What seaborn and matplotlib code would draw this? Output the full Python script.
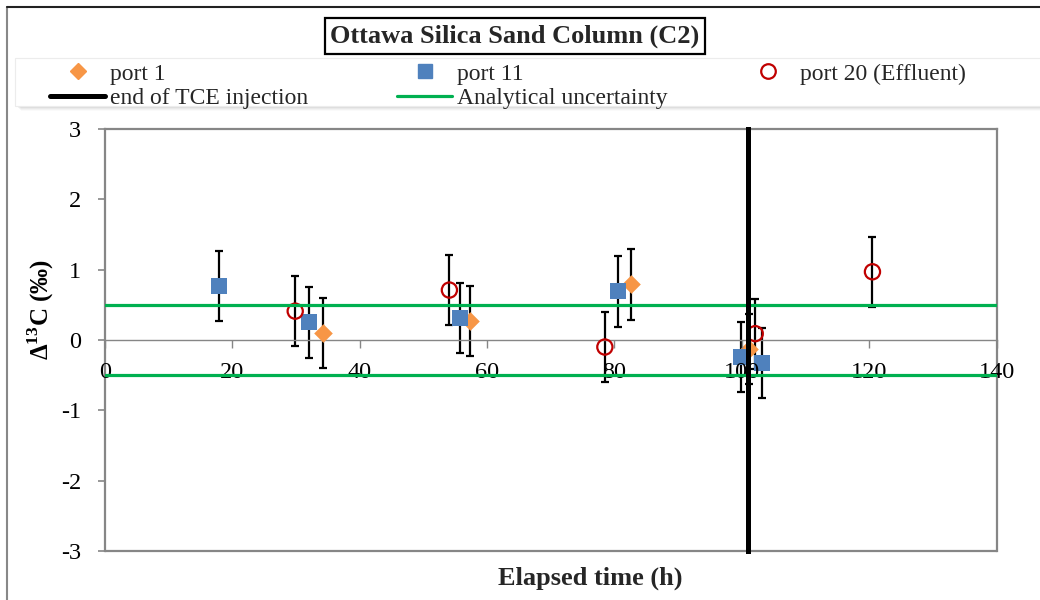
import matplotlib
matplotlib.use("Agg")
import matplotlib.pyplot as plt
from matplotlib.lines import Line2D
from matplotlib.patches import Rectangle
import pandas as pd
import seaborn as sns

# ---- data -----------------------------------------------------------------
port1_time = [34.3, 57.4, 82.6, 101.2]
port1_d13c = [0.10, 0.27, 0.79, -0.13]
port1_err = [0.5, 0.5, 0.5, 0.5]

port11_time = [17.9, 32.1, 55.7, 80.5, 99.9, 103.2]
port11_d13c = [0.77, 0.25, 0.31, 0.69, -0.24, -0.33]
port11_err = [0.5, 0.5, 0.5, 0.5, 0.5, 0.5]

port20_time = [29.9, 54.1, 78.5, 102.1, 120.5]
port20_d13c = [0.41, 0.71, -0.10, 0.09, 0.97]
port20_err = [0.5, 0.5, 0.5, 0.5, 0.5]

tce_time = [101.0, 101.0]
tce_range = [-3.0, 3.0]

unc_time = [0.0, 140.0]
unc_upper = [0.5, 0.5]
unc_lower = [-0.5, -0.5]

x_ticks = [0, 20, 40, 60, 80, 100, 120, 140]
y_ticks = [-3, -2, -1, 0, 1, 2, 3]

labels = ["port 1", "port 11", "port 20 (Effluent)",
          "end of TCE injection", "Analytical uncertainty"]
title = "Ottawa Silica Sand Column (C2)"

# ---- style ----------------------------------------------------------------
sns.set_theme(style="white")
plt.rcParams["font.family"] = ["Liberation Serif", "DejaVu Serif"]
plt.rcParams["mathtext.fontset"] = "custom"
plt.rcParams["mathtext.rm"] = "Liberation Serif"
plt.rcParams["mathtext.bf"] = "Liberation Serif:bold"

ORANGE = "#F79646"
BLUE = "#4F81BD"
RED = "#C00000"
GREEN = "#00B050"
FRAME = "#868686"

W, H = 1040, 600


def fx(px):
    return px / W


def fy(py):
    return 1 - py / H


fig = plt.figure(figsize=(10.4, 6.0), dpi=100)
ax = fig.add_axes([fx(104.7), fy(551), 892 / W, 422 / H])

# error bars
for t, v, e in [(port1_time, port1_d13c, port1_err),
                (port11_time, port11_d13c, port11_err),
                (port20_time, port20_d13c, port20_err)]:
    ax.errorbar(t, v, yerr=e, fmt="none", ecolor="black",
                elinewidth=1.6, capsize=3.2, capthick=1.6, zorder=2)

# markers
df1 = pd.DataFrame({"t": port1_time, "v": port1_d13c})
df11 = pd.DataFrame({"t": port11_time, "v": port11_d13c})
df20 = pd.DataFrame({"t": port20_time, "v": port20_d13c})
sns.scatterplot(data=df1, x="t", y="v", ax=ax, marker="D", s=90,
                color=ORANGE, linewidth=0, zorder=3)
sns.scatterplot(data=df11, x="t", y="v", ax=ax, marker="s", s=117,
                color=BLUE, linewidth=0, zorder=3)
sns.scatterplot(data=df20, x="t", y="v", ax=ax, marker="o", s=120,
                color=RED, facecolors="none", edgecolor=RED,
                linewidth=1.6, zorder=3)

# reference lines
sns.lineplot(x=unc_time, y=unc_upper, ax=ax, color=GREEN, linewidth=2.3,
             zorder=4)
sns.lineplot(x=unc_time, y=unc_lower, ax=ax, color=GREEN, linewidth=2.3,
             zorder=4)
ax.plot(tce_time, tce_range, color="black", linewidth=3.6,
        solid_capstyle="projecting", clip_on=False, zorder=4)

# axes
ax.set_xlim(0, 140)
ax.set_ylim(-3, 3)
ax.set_xticks(x_ticks)
ax.set_yticks(y_ticks)
ax.set_xticklabels([str(v) for v in x_ticks])
ax.set_yticklabels([str(v) for v in y_ticks])

ax.spines["bottom"].set_position(("data", 0))
ax.spines["bottom"].set_color(FRAME)
ax.spines["bottom"].set_linewidth(1.0)
for side in ("left", "top", "right"):
    ax.spines[side].set_color(FRAME)
    ax.spines[side].set_linewidth(1.6)
ax.plot([0, 1], [0, 0], transform=ax.transAxes, color=FRAME, lw=1.6,
        clip_on=False, zorder=2.5)

ax.tick_params(axis="x", direction="out", length=6, width=1.0, color=FRAME,
               pad=10, labelsize=17.5, labelcolor="black", bottom=True)
ax.tick_params(axis="y", direction="out", length=5, width=1.2, color=FRAME,
               pad=12, labelsize=17.5, labelcolor="black", left=True)
ax.xaxis.set_zorder(3.5)

ax.set_xlabel("")
ax.set_ylabel(r"Δ$^{\mathbf{13}}$C (‰)", fontsize=18, fontweight="bold",
              color="black")
ax.yaxis.set_label_coords((41 - 104.7) / 892, (551 - 310) / 422)
ax.yaxis.label.set_va("center")

fig.text(fx(590), fy(578), "Elapsed time (h)", ha="center", va="center",
         fontsize=19, fontweight="bold")

# title box
fig.text(fx(515), fy(36), title, ha="center", va="center", fontsize=19,
         fontweight="bold",
         bbox=dict(boxstyle="square,pad=0.22", fc="white", ec="black",
                   lw=1.6))

# legend panel with soft shadow
for i, a in enumerate([0.10, 0.08, 0.06, 0.04]):
    fig.add_artist(Rectangle((fx(18 + i), fy(108 + i)), 1.1, 48 / H,
                             transform=fig.transFigure, fc="#808080",
                             ec="none", alpha=a, zorder=1))
fig.add_artist(Rectangle((fx(15), fy(106)), 1.1, 48 / H,
                         transform=fig.transFigure, fc="white",
                         ec="#ececec", lw=0.8, zorder=1.5))

h_p1 = Line2D([], [], marker="D", markersize=8.5, color=ORANGE, ls="none")
h_p11 = Line2D([], [], marker="s", markersize=10.5, color=BLUE, ls="none")
h_p20 = Line2D([], [], marker="o", markersize=10.5, markerfacecolor="none",
               markeredgecolor=RED, markeredgewidth=1.6, ls="none")
h_tce = Line2D([], [], color="black", lw=3.6)
h_unc = Line2D([], [], color=GREEN, lw=2.3)

leg_kw = dict(loc="upper left", frameon=False, borderpad=0,
              borderaxespad=0, handlelength=2.35, handletextpad=0.2,
              labelspacing=0.12, fontsize=17)
for handles, labs, x0 in [([h_p1, h_tce], [labels[0], labels[3]], 50),
                          ([h_p11, h_unc], [labels[1], labels[4]], 397),
                          ([h_p20], [labels[2]], 740)]:
    leg = fig.legend(handles=handles, labels=labs,
                     bbox_to_anchor=(fx(x0), fy(63)), **leg_kw)
    leg.set_zorder(2)

# chart border
fig.add_artist(Line2D([fx(7), fx(7)], [fy(7), 0], color="#888888", lw=1.5))
fig.add_artist(Line2D([fx(7), 1], [fy(6.5), fy(6.5)], color="#222222",
                      lw=1.5))

fig.savefig("out.png", dpi=100)
